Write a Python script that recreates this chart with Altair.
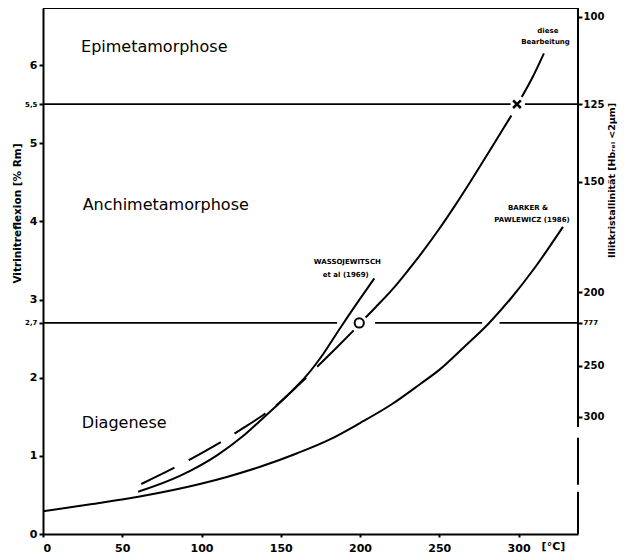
import altair as alt
import pandas as pd

# ---------------- data ----------------
# Barker & Pawlewicz (1986): temperature [°C] vs vitrinite reflectance [% Rm]
bp_T = [0, 30, 61, 99, 116, 137, 160, 181, 200, 220, 238, 250, 265, 281, 295, 310, 328]
bp_R = [0.29, 0.38, 0.48, 0.64, 0.73, 0.86, 1.03, 1.21, 1.42, 1.66, 1.92, 2.10, 2.38, 2.69, 3.01, 3.40, 3.93]

# diese Bearbeitung (curve drawn in pieces, interrupted at the markers)
db_T = [60, 87, 110, 126, 137, 147, 157, 166,
        173, 185, 196,
        203.5, 210, 220, 230, 240, 250, 260, 270, 280, 290, 295.5,
        302, 309, 316]
db_R = [0.54, 0.75, 1.01, 1.25, 1.45, 1.635, 1.825, 2.00,
        2.14, 2.38, 2.605,
        2.77, 2.905, 3.12, 3.365, 3.625, 3.905, 4.205, 4.52, 4.845, 5.175, 5.355,
        5.59, 5.85, 6.15]
db_seg = [1] * 8 + [2] * 3 + [3] * 11 + [4] * 3

# Wassojewitsch et al (1969): dashed lower part, solid upper part
wd_T = [62, 84, 92, 110, 119, 124, 138, 147]
wd_R = [0.64, 0.86, 0.945, 1.15, 1.26, 1.325, 1.51, 1.64]
ws_T = [147, 157, 166, 177, 187, 198, 209]
ws_R = [1.64, 1.83, 2.02, 2.31, 2.62, 2.95, 3.27]

# zone boundaries (lines interrupted where curves / markers cross)
bound_R = [5.5, 5.5, 2.7, 2.7, 2.7]
bound_T1 = [0, 304, 0, 209.5, 288]
bound_T2 = [295, 337.5, 185.5, 277, 337.5]

# markers
circ_T, circ_R = [199.5], [2.7]
cross_T, cross_R = [299], [5.5]

# axes
x_ticks = [0, 50, 100, 150, 200, 250, 300]
left_ticks = [0, 1, 2, 2.7, 3, 4, 5, 5.5, 6]
right_tick_R = [6.62, 5.5, 4.51, 3.09, 2.7, 2.15, 1.5]
right_tick_lab = ["100", "125", "150", "200", "777", "250", "300"]

# zone labels
zones = ["Epimetamorphose", "Anchimetamorphose", "Diagenese"]
zone_T = [24, 25, 24.5]
zone_R = [6.23, 4.21, 1.42]

# curve annotations
ann_text = ["WASSOJEWITSCH", "et al (1969)", "BARKER &", "PAWLEWICZ (1986)", "diese", "Bearbeitung"]
ann_T = [192, 191, 306, 308.5, 318.5, 317]
ann_R = [3.48, 3.31, 4.17, 4.02, 6.43, 6.30]

X_MAX = 337.5
Y_MAX = 6.73
RIGHT_SOLID_FROM = 1.37
RIGHT_DASH_FROM = 1.23

# ---------------- chart ----------------
FONT = "DejaVu Sans"
xs = alt.Scale(domain=[0, X_MAX], nice=False, zero=False)
ys = alt.Scale(domain=[0, Y_MAX], nice=False, zero=False)

x_axis = alt.Axis(values=x_ticks, tickSize=3, tickWidth=2, tickColor="black",
                  domainColor="black", domainWidth=2, grid=False,
                  labelFont=FONT, labelFontSize=11, labelFontWeight="bold",
                  labelColor="black", labelPadding=5, title=None)

left_axis = alt.Axis(values=left_ticks, orient="left", tickSize=4, tickWidth=2, tickColor="black",
                     domainColor="black", domainWidth=2, grid=False,
                     labelFont=FONT, labelFontWeight="bold", labelColor="black",
                     labelFontSize={"condition": {"test": "datum.value == 2.7 || datum.value == 5.5", "value": 7},
                                    "value": 11},
                     labelExpr="datum.value == 2.7 ? '2,7' : datum.value == 5.5 ? '5,5' : datum.label",
                     labelPadding=2,
                     title="Vitrinitreflexion [% Rm]", titleFont=FONT, titleFontSize=10.5,
                     titleFontWeight="bold", titleColor="black", titleAngle=270,
                     titleX=-26, titleY=205, titleAlign="center", titleBaseline="middle")

lab_expr = " : ".join(
    f"datum.value == {v} ? '{t}'" for v, t in zip(right_tick_R, right_tick_lab)
) + " : ''"

right_axis = alt.Axis(values=right_tick_R, orient="right", tickSize=4, tickWidth=2, tickColor="black",
                      domain=False, grid=False,
                      labelFont=FONT, labelFontWeight="bold", labelColor="black",
                      labelFontSize={"condition": {"test": "datum.value == 2.7", "value": 7}, "value": 10},
                      labelExpr=lab_expr, labelPadding=1,
                      title="Illitkristallinität [Hbᵣₑₗ <2µm]", titleFont=FONT, titleFontSize=9.5,
                      titleFontWeight="bold", titleColor="black", titleAngle=270,
                      titleX=33, titleY=172, titleAlign="center", titleBaseline="middle")

df_bp = pd.DataFrame({"T": bp_T, "R": bp_R})
df_db = pd.DataFrame({"T": db_T, "R": db_R, "seg": db_seg})
df_wd = pd.DataFrame({"T": wd_T, "R": wd_R})
df_ws = pd.DataFrame({"T": ws_T, "R": ws_R})
df_b = pd.DataFrame({"T1": bound_T1, "T2": bound_T2, "R": bound_R})
df_zone = pd.DataFrame({"T": zone_T, "R": zone_R, "txt": zones})
df_ann = pd.DataFrame({"T": ann_T, "R": ann_R, "txt": ann_text})

LW = 2


def X(field):
    return alt.X(field, scale=xs, axis=x_axis)


def Y(field, axis=None):
    return alt.Y(field, scale=ys, axis=axis)


# layer with left axis
bp_line = alt.Chart(df_bp).mark_line(color="black", strokeWidth=LW, interpolate="monotone").encode(
    x=X("T:Q"), y=Y("R:Q", left_axis),
)

# right frame: solid part carrying the right axis
right_solid = alt.Chart(pd.DataFrame({"T": [X_MAX], "y1": [RIGHT_SOLID_FROM], "y2": [Y_MAX]})).mark_rule(
    color="black", strokeWidth=LW).encode(
    x=X("T:Q"), y=Y("y1:Q", right_axis), y2="y2:Q",
)

right_dash = alt.Chart(pd.DataFrame({"T": [X_MAX], "y1": [RIGHT_DASH_FROM], "y2": [0]})).mark_rule(
    color="black", strokeWidth=LW, strokeDash=[47, 7]).encode(
    x=X("T:Q"), y=Y("y1:Q"), y2="y2:Q",
)

top_frame = alt.Chart(pd.DataFrame({"T1": [0], "T2": [X_MAX], "R": [Y_MAX]})).mark_rule(
    color="black", strokeWidth=LW).encode(
    x=X("T1:Q"), x2="T2:Q", y=Y("R:Q"),
)

bounds = alt.Chart(df_b).mark_rule(color="black", strokeWidth=1.8).encode(
    x=X("T1:Q"), x2="T2:Q", y=Y("R:Q"),
)

db_line = alt.Chart(df_db).mark_line(color="black", strokeWidth=LW, interpolate="monotone").encode(
    x=X("T:Q"), y=Y("R:Q"), detail="seg:N",
)

wd_line = alt.Chart(df_wd).mark_line(color="black", strokeWidth=LW, interpolate="monotone",
                                     strokeDash=[37, 16]).encode(
    x=X("T:Q"), y=Y("R:Q"),
)

ws_line = alt.Chart(df_ws).mark_line(color="black", strokeWidth=LW, interpolate="monotone").encode(
    x=X("T:Q"), y=Y("R:Q"),
)

circ = alt.Chart(pd.DataFrame({"T": circ_T, "R": circ_R})).mark_point(
    shape="circle", filled=False, size=85, strokeWidth=2, color="black", opacity=1).encode(
    x=X("T:Q"), y=Y("R:Q"),
)

cross = alt.Chart(pd.DataFrame({"T": cross_T, "R": cross_R})).mark_point(
    shape="M-1,-1L1,1M-1,1L1,-1", filled=False, size=60, strokeWidth=2.5, color="black", opacity=1).encode(
    x=X("T:Q"), y=Y("R:Q"),
)

zone_txt = alt.Chart(df_zone).mark_text(font=FONT, fontSize=16, align="left", baseline="middle",
                                        color="black").encode(
    x=X("T:Q"), y=Y("R:Q"), text="txt:N",
)

ann_txt = alt.Chart(df_ann).mark_text(font=FONT, fontSize=7, fontWeight="bold", align="center",
                                      baseline="middle", color="black").encode(
    x=X("T:Q"), y=Y("R:Q"), text="txt:N",
)

unit_txt = alt.Chart(pd.DataFrame({"T": [322], "txt": ["[°C]"]})).mark_text(
    font=FONT, fontSize=11, fontWeight="bold", align="center", baseline="middle", color="black").encode(
    x=X("T:Q"), y=alt.value(539), text="txt:N",
)

chart = alt.layer(
    bp_line, right_solid, right_dash, top_frame, bounds, db_line, wd_line, ws_line,
    circ, cross, zone_txt, ann_txt, unit_txt,
).resolve_axis(y="independent").properties(
    width=535, height=526,
    autosize=alt.AutoSizeParams(type="none"),
    padding={"left": 35, "top": 0, "right": 47, "bottom": 22},
    background="white",
).configure_view(stroke=None)

chart.save("out.html", embed_options={"renderer": "svg", "actions": False})
